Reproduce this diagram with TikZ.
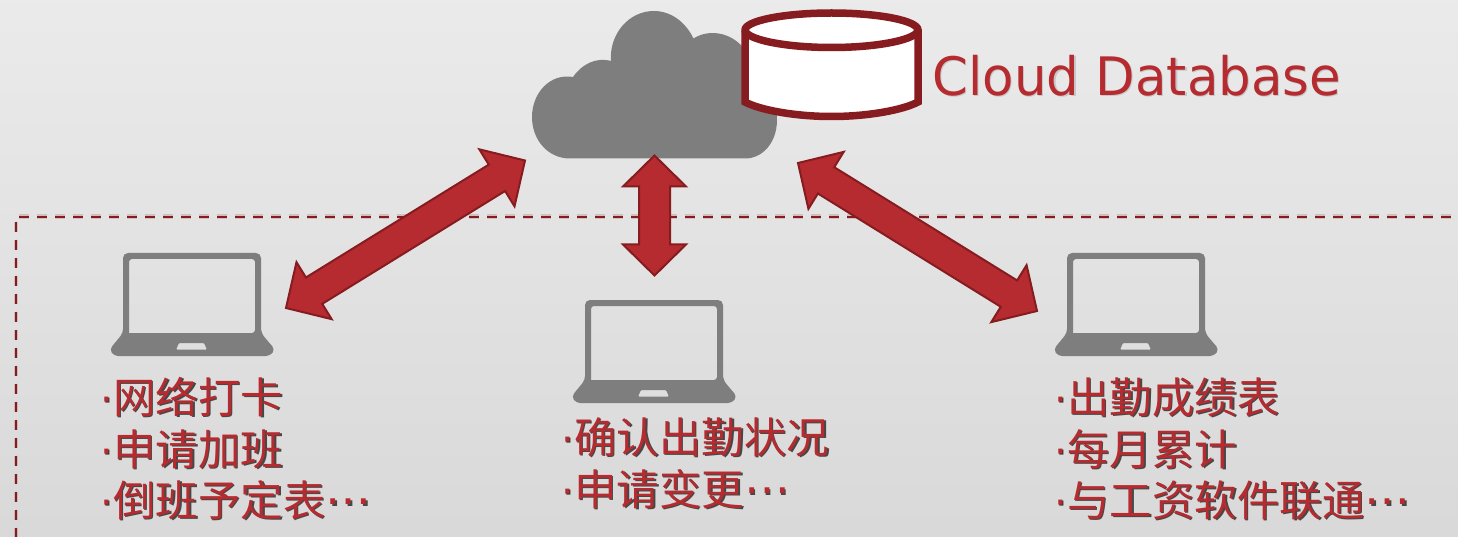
\documentclass[tikz,border=0pt]{standalone}
\usepackage{fontspec}
\usetikzlibrary{calc}
\newfontfamily\cjk{Noto Sans CJK SC}
\newfontfamily\latfont{DejaVu Sans}
\newfontfamily\dbfont[FakeStretch=0.97]{DejaVu Sans}
\definecolor{arrowred}{HTML}{B52B2F}
\definecolor{darkred}{HTML}{861C1F}
\definecolor{graysym}{HTML}{7E7E7E}
\tikzset{
  arrowst/.style={fill=arrowred,draw=darkred,line width=2pt,line join=miter},
  cjktext/.style={anchor=base west,inner sep=0pt,outer sep=0pt,font=\cjk\fontsize{42.5}{42.5}\selectfont},
  dbtext/.style={anchor=base west,inner sep=0pt,font=\dbfont\fontsize{53}{53}\selectfont},
  dashline/.style={darkred,line width=2.2pt,dash pattern=on 10pt off 8pt},
  dashglow/.style={darkred,opacity=.18,line width=4.4pt,dash pattern=on 10pt off 8pt},
  lap/.style={fill=graysym,even odd rule,draw=none},
}
\newcommand\dblarrow[5]{% tipA tipB shaft head len
  \path ($(#1)!#5pt!(#2)$) coordinate (h1) ($(#2)!#5pt!(#1)$) coordinate (h2);
  \draw[arrowst] (#1) -- ($(h1)!#4pt!90:(#1)$) -- ($(h1)!#3pt!90:(#1)$)
    -- ($(h2)!#3pt!-90:(#2)$) -- ($(h2)!#4pt!-90:(#2)$) -- (#2)
    -- ($(h2)!#4pt!90:(#2)$) -- ($(h2)!#3pt!90:(#2)$)
    -- ($(h1)!#3pt!-90:(#1)$) -- ($(h1)!#4pt!-90:(#1)$) -- cycle;
}
\newcommand\laptop[3]{% name dx dy
  \begin{scope}[shift={(#2,#3)}]
  \coordinate (#1) at (192,305);
  \fill[lap] [rounded corners=5pt] (123,333) -- (123,253) -- (261,253) -- (261,333)
     [rounded corners=4pt] -- (275,349.5) -- (270,356) -- (114,356) -- (109.5,349.5) -- cycle
     [rounded corners=3pt] (129,333) -- (255,333) [sharp corners] -- (255,333) [rounded corners=3pt] -- (255,259) -- (129,259) -- (129,333) [sharp corners] -- cycle
     [rounded corners=1pt] (176,349.5) -- (179,343) -- (204,343) -- (207,349.5) -- cycle;
  \end{scope}
}
\newcommand\shtext[5]{% name x y text dots
  \node[anchor=base west,inner sep=0pt,text=black!80,font=\latfont\fontsize{40}{40}\selectfont] (#1bs) at (#2-1,#3+1) {·};
  \node[anchor=base west,inner sep=0pt,text=arrowred,font=\latfont\fontsize{40}{40}\selectfont] (#1b) at (#2-2,#3) {·};
  \node[cjktext,text=black!72] (#1s) at (#2+12.8,#3+1.8) {#4#5};
  \node[cjktext,text=arrowred] (#1) at (#2+11,#3) {#4#5};
}
\newcommand\mydots{\raisebox{.27em}{\latfont\fontsize{46}{46}\selectfont …}}
\begin{document}
\begin{tikzpicture}[x=1pt,y=-1pt]
\useasboundingbox (0,0) rectangle (1458,537);
\shade[top color=black!8,bottom color=black!15] (0,0) rectangle (1458,537);
% dashed frame
\coordinate (fa) at (1458,216.7); \coordinate (fb) at (19,216.7);
\coordinate (fc) at (15.7,221.7); \coordinate (fd) at (15.7,537);
\draw[dashglow] (fb) -- (fa);
\draw[dashglow] (fc) -- (fd);
\draw[dashline] (fb) -- (fa);
\draw[dashline] (fc) -- (fd);
% cloud
\fill[graysym] (570,158.5) -- (745,158.5)
  .. controls (763,158.5) and (777,142) .. (777,120)
  .. controls (777,90) and (765,65) .. (745,50)
  .. controls (733,33) and (710,28) .. (693.5,38.5)
  .. controls (685,21) and (670,11) .. (654,11)
  .. controls (628,11) and (609,35) .. (611,61)
  .. controls (596,57) and (582,64) .. (573,77)
  .. controls (550,73) and (532,93) .. (532,117)
  .. controls (532,140) and (548,158.5) .. (570,158.5) -- cycle;
% database
\draw[darkred,line width=7.5pt,fill=white] (745,30) -- (745,102)
  .. controls (760,110) and (795,116.5) .. (831.5,116.5)
  .. controls (868,116.5) and (903,110) .. (918,102) -- (918,30)
  .. controls (918,21) and (880,13) .. (831.5,13)
  .. controls (783,13) and (745,21) .. (745,30) -- cycle;
\draw[darkred,line width=7.5pt] (745,30) .. controls (745,39) and (783,47.5) .. (831.5,47.5)
  .. controls (880,47.5) and (918,39) .. (918,30);
\node[dbtext,text=black!22] (dbs) at (933.6,96.4) {Cloud Database};
\node[dbtext,text=arrowred] (db) at (932.5,95.2) {Cloud Database};
% laptops
\laptop{lapA}{0}{0}
\laptop{lapB}{462}{47}
\laptop{lapC}{944}{0}
% arrows
\coordinate (a1) at (525,160.5); \coordinate (a2) at (286,308);
\coordinate (b1) at (654.5,155.5); \coordinate (b2) at (654.5,275.5);
\coordinate (c1) at (798,163); \coordinate (c2) at (1037,311);
\dblarrow{a1}{a2}{15.5}{33.5}{33}
\dblarrow{b1}{b2}{15.5}{31.5}{31}
\dblarrow{c1}{c2}{15.5}{33.5}{33}
% text
\shtext{t1}{102}{413}{网络打卡}{}
\shtext{t2}{102}{465}{申请加班}{}
\shtext{t3}{102}{516}{倒班予定表}{\mydots}
\shtext{t4}{563}{453}{确认出勤状况}{}
\shtext{t5}{563}{505}{申请变更}{\mydots}
\shtext{t6}{1056}{413}{出勤成绩表}{}
\shtext{t7}{1056}{465}{每月累计}{}
\shtext{t8}{1056}{516}{与工资软件联通}{\mydots}
\end{tikzpicture}
\end{document}
